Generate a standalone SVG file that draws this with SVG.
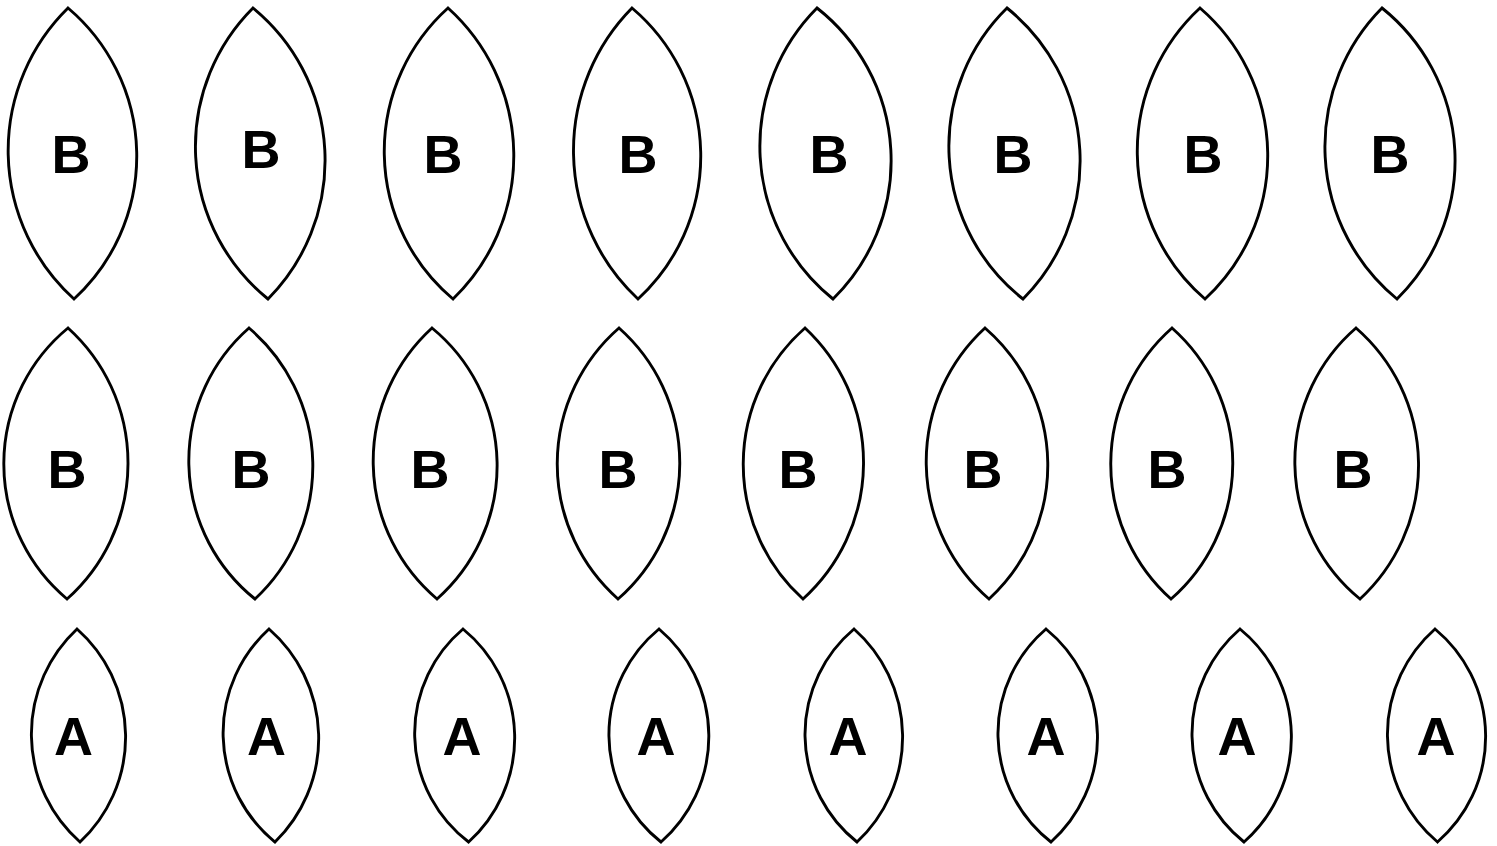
<svg xmlns="http://www.w3.org/2000/svg" width="1497" height="846" viewBox="0 0 1497 846">
<style>
.lens{fill:#fff;stroke:#000;stroke-width:2.9;stroke-linejoin:miter}
.lbl{font-family:"Liberation Sans",Arial,sans-serif;font-weight:bold;font-size:54px;fill:#000;text-anchor:middle}
</style>
<rect width="1497" height="846" fill="#fff"/>
<g id="connectors"></g>
<g id="row1">
<g id="b1"><path class="lens" d="M68 8 A200 200 0 0 0 74 299 A194 194 0 0 0 68 8 Z"/><text class="lbl" x="71" y="173">B</text></g>
<g id="b2"><path class="lens" d="M253 8 A196 196 0 0 0 268 299 A197 197 0 0 0 253 8 Z"/><text class="lbl" x="261" y="168">B</text></g>
<g id="b3"><path class="lens" d="M448 8 A193 193 0 0 0 453 299 A199 199 0 0 0 448 8 Z"/><text class="lbl" x="443" y="173">B</text></g>
<g id="b4"><path class="lens" d="M632 8 A203 203 0 0 0 638 299 A194 194 0 0 0 632 8 Z"/><text class="lbl" x="638" y="173">B</text></g>
<g id="b5"><path class="lens" d="M817 8 A196 196 0 0 0 833 299 A194 194 0 0 0 817 8 Z"/><text class="lbl" x="829" y="173">B</text></g>
<g id="b6"><path class="lens" d="M1007 8 A194 194 0 0 0 1023 299 A196 196 0 0 0 1007 8 Z"/><text class="lbl" x="1013" y="173">B</text></g>
<g id="b7"><path class="lens" d="M1200 8 A195 195 0 0 0 1205 299 A195 195 0 0 0 1200 8 Z"/><text class="lbl" x="1203" y="173">B</text></g>
<g id="b8"><path class="lens" d="M1382 8 A197 197 0 0 0 1397 299 A195 195 0 0 0 1382 8 Z"/><text class="lbl" x="1390" y="173">B</text></g>
</g>
<g id="row2">
<g id="b9"><path class="lens" d="M68 328 A176 176 0 0 0 67 599 A182 182 0 0 0 68 328 Z"/><text class="lbl" x="67" y="488">B</text></g>
<g id="b10"><path class="lens" d="M249 328 A177 177 0 0 0 255 599 A181.5 181.5 0 0 0 249 328 Z"/><text class="lbl" x="251" y="488">B</text></g>
<g id="b11"><path class="lens" d="M432 328 A180.5 180.5 0 0 0 437 599 A178 178 0 0 0 432 328 Z"/><text class="lbl" x="430" y="488">B</text></g>
<g id="b12"><path class="lens" d="M619 328 A180.5 180.5 0 0 0 618 599 A180.5 180.5 0 0 0 619 328 Z"/><text class="lbl" x="618" y="488">B</text></g>
<g id="b13"><path class="lens" d="M805 328 A181.5 181.5 0 0 0 803 599 A184 184 0 0 0 805 328 Z"/><text class="lbl" x="798" y="488">B</text></g>
<g id="b14"><path class="lens" d="M985 328 A181.5 181.5 0 0 0 989 599 A181.5 181.5 0 0 0 985 328 Z"/><text class="lbl" x="983" y="488">B</text></g>
<g id="b15"><path class="lens" d="M1172 328 A181.5 181.5 0 0 0 1171 599 A180.5 180.5 0 0 0 1172 328 Z"/><text class="lbl" x="1167" y="488">B</text></g>
<g id="b16"><path class="lens" d="M1356 328 A177 177 0 0 0 1360 599 A182 182 0 0 0 1356 328 Z"/><text class="lbl" x="1353" y="488">B</text></g>
</g>
<g id="row3">
<g id="a1"><path class="lens" d="M77 629 A144 144 0 0 0 80 842 A144 144 0 0 0 77 629 Z"/><text class="lbl" x="73.5" y="755">A</text></g>
<g id="a2"><path class="lens" d="M269 629 A140.6 140.6 0 0 0 275 842 A145 145 0 0 0 269 629 Z"/><text class="lbl" x="266.5" y="755">A</text></g>
<g id="a3"><path class="lens" d="M463 629 A136.6 136.6 0 0 0 468.6 842 A140.6 140.6 0 0 0 463 629 Z"/><text class="lbl" x="462" y="755">A</text></g>
<g id="a4"><path class="lens" d="M659 629 A136.6 136.6 0 0 0 661 842 A140.6 140.6 0 0 0 659 629 Z"/><text class="lbl" x="656" y="755">A</text></g>
<g id="a5"><path class="lens" d="M854 629 A137.6 137.6 0 0 0 857 842 A144 144 0 0 0 854 629 Z"/><text class="lbl" x="848" y="755">A</text></g>
<g id="a6"><path class="lens" d="M1046 629 A137.6 137.6 0 0 0 1051 842 A140.4 140.4 0 0 0 1046 629 Z"/><text class="lbl" x="1046" y="755">A</text></g>
<g id="a7"><path class="lens" d="M1240 629 A138.5 138.5 0 0 0 1244 842 A139.6 139.6 0 0 0 1240 629 Z"/><text class="lbl" x="1237" y="755">A</text></g>
<g id="a8"><path class="lens" d="M1435 629 A140.6 140.6 0 0 0 1437.5 842 A139.6 139.6 0 0 0 1435 629 Z"/><text class="lbl" x="1436" y="755">A</text></g>
</g>
</svg>
